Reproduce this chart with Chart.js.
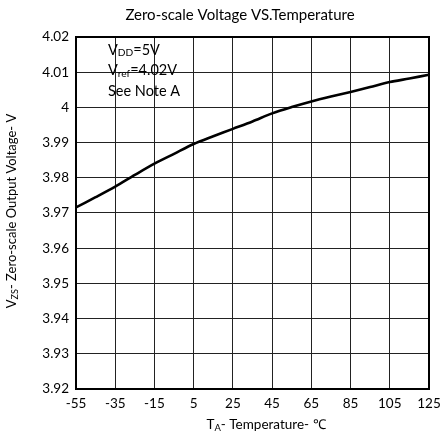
<!DOCTYPE html>
<html><head><meta charset="utf-8">
<script src="https://cdn.jsdelivr.net/npm/chart.js@4/dist/chart.umd.min.js"></script>
<style>html,body{margin:0;padding:0;background:#fff}#wrap{width:440px;height:439px}</style>
</head><body><div id="wrap"><canvas id="c" width="440" height="439"></canvas></div>
<script>
const temperatures = [-55,-45,-35,-25,-15,-5,5,15,25,35,45,55,65,75,85,95,105,115,125];
const voltages = [3.9716,3.9745,3.9775,3.9808,3.9840,3.9868,3.9896,3.9918,3.9939,3.9960,3.9983,4.0001,4.0017,4.0031,4.0044,4.0058,4.0072,4.0082,4.0093];
const xTicks = [-55,-35,-15,5,25,45,65,85,105,125];
const yTicks = [3.92,3.93,3.94,3.95,3.96,3.97,3.98,3.99,4.00,4.01,4.02];
const titleText = 'Zero-scale Voltage VS.Temperature';
const xTitle = [{t:'T'},{t:'A',sub:true},{t:'- Temperature- ℃'}];
const yTitle = [{t:'V'},{t:'ZS',sub:true},{t:'- Zero-scale Output Voltage- V'}];
const notes = [
  [{t:'V'},{t:'DD',sub:true},{t:'=5V'}],
  [{t:'V'},{t:'ref',sub:true},{t:'=4.02V'}],
  [{t:'See Note A'}]
];
const FONT = 'Lato, "Open Sans", sans-serif';

function segWidth(ctx, segs, size){
  let w=0;
  for(const s of segs){ctx.font=(s.sub?size*0.7:size)+'px '+FONT; w+=ctx.measureText(s.t).width;}
  return w;
}
function drawSegs(ctx, segs, x, y, size){
  let cx=x;
  ctx.textBaseline='middle'; ctx.textAlign='left';
  for(const s of segs){
    const fs = s.sub?size*0.7:size;
    ctx.font=fs+'px '+FONT;
    ctx.fillText(s.t, cx, s.sub? y+size*0.22 : y);
    cx+=ctx.measureText(s.t).width;
  }
}
const textPlugin = {
  id:'texts',
  afterDraw(chart){
    const ctx=chart.ctx, a=chart.chartArea;
    ctx.save();
    ctx.fillStyle='#000';
    ctx.font='15px '+FONT; ctx.textAlign='center'; ctx.textBaseline='middle';
    ctx.fillText(titleText, 240, 15);
    let w=segWidth(ctx,xTitle,13.5);
    drawSegs(ctx,xTitle,266-w/2,425,13.5);
    ctx.save();
    ctx.translate(12,211);
    ctx.rotate(-Math.PI/2);
    w=segWidth(ctx,yTitle,13);
    drawSegs(ctx,yTitle,-w/2,0,13);
    ctx.restore();
    notes.forEach((n,i)=>drawSegs(ctx,n,a.left+32,a.top+13+i*20.5,14.5));
    ctx.strokeStyle='#000'; ctx.lineWidth=2;
    ctx.strokeRect(a.left,a.top,a.right-a.left,a.bottom-a.top);
    ctx.restore();
  }
};
new Chart(document.getElementById('c'),{
  type:'line',
  data:{datasets:[{data:temperatures.map((t,i)=>({x:t,y:voltages[i]})),borderColor:'#000',borderWidth:2.6,pointRadius:0,tension:0.3,fill:false}]},
  options:{
    responsive:false,animation:false,
    layout:{padding:{left:0,right:11,top:37,bottom:0}},
    plugins:{legend:{display:false},title:{display:false},tooltip:{enabled:false}},
    scales:{
      x:{type:'linear',min:-55,max:125,
        afterBuildTicks:s=>{s.ticks=xTicks.map(v=>({value:v}));},
        afterFit:s=>{s.height=50;s.paddingLeft=0;s.paddingRight=0;},
        grid:{color:'#222',lineWidth:1,drawTicks:false},
        border:{display:false},
        ticks:{color:'#000',font:{family:FONT,size:13.5},padding:7,maxRotation:0,autoSkip:false,callback:v=>String(v)}},
      y:{type:'linear',min:3.92,max:4.02,
        afterBuildTicks:s=>{s.ticks=yTicks.map(v=>({value:v}));},
        afterFit:s=>{s.width=76;s.paddingTop=0;s.paddingBottom=0;},
        grid:{color:'#222',lineWidth:1,drawTicks:false},
        border:{display:false},
        ticks:{color:'#000',font:{family:FONT,size:13.5},padding:7,autoSkip:false,callback:v=>String(Number(v.toFixed(2)))}}
    }
  },
  plugins:[textPlugin]
});
</script></body></html>
